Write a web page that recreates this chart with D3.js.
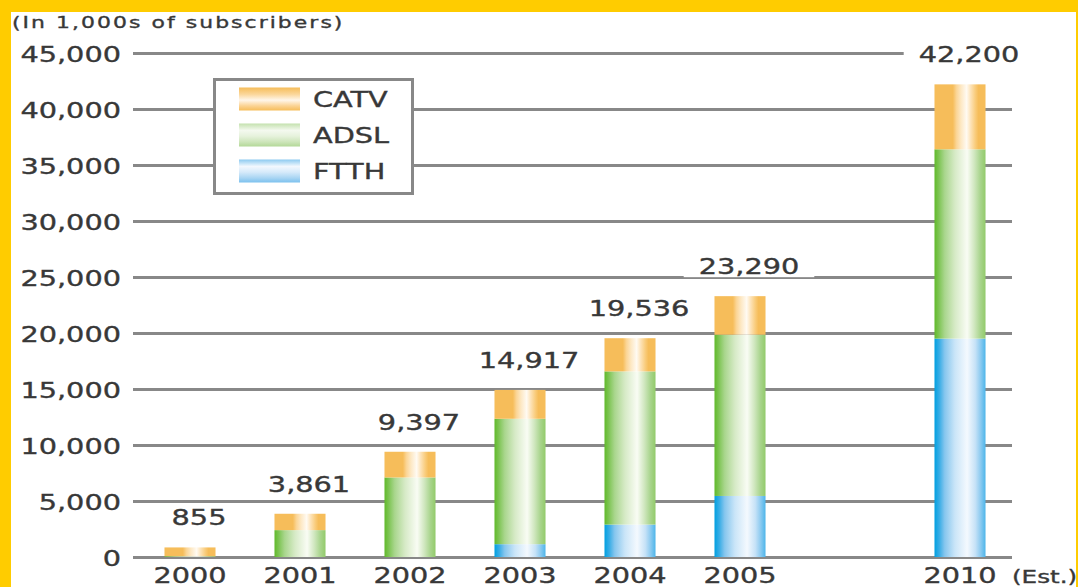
<!DOCTYPE html>
<html>
<head>
<meta charset="utf-8">
<script src="https://cdn.jsdelivr.net/npm/d3@7"></script>
<style>
  html, body { margin: 0; padding: 0; background: #fff; }
  svg { display: block; }
  text { font-family: "DejaVu Sans", sans-serif; fill: #383838; stroke: #383838; stroke-width: 0.35px; }
</style>
</head>
<body>
<div id="chart"></div>
<script>
// values in 1,000s of subscribers
const years = ["2000", "2001", "2002", "2003", "2004", "2005", "2010"];
const ftth = [0, 0, 0, 1144, 2895, 5450, 19500];
const adsl = [70, 2400, 7100, 11198, 13677, 14400, 16900];
const catv = [785, 1461, 2297, 2575, 2964, 3440, 5800];
const totals = [855, 3861, 9397, 14917, 19536, 23290, 42200];
const yTicks = [0, 5000, 10000, 15000, 20000, 25000, 30000, 35000, 40000, 45000];
const seriesNames = ["CATV", "ADSL", "FTTH"];

const width = 1078, height = 587;
const sx = 1.37; // glyphs in the picture are stretched sideways
const gridLeft = 133, gridRight = 1012;

const svg = d3.select("#chart").append("svg")
    .attr("width", width)
    .attr("height", height);

// yellow frame
svg.append("rect").attr("x", 0).attr("y", 0).attr("width", width).attr("height", 12).attr("fill", "#ffcc00");
svg.append("rect").attr("x", 0).attr("y", 0).attr("width", 11).attr("height", height).attr("fill", "#ffcc00");
svg.append("rect").attr("x", 1076).attr("y", 0).attr("width", 2).attr("height", height).attr("fill", "#ffcc00");

const defs = svg.append("defs");

const barStops = {
    CATV: [[0, "#f6bd5a"], [0.36, "#f6bd5a"], [0.43, "#fbd595"], [0.52, "#fde8c4"], [0.63, "#fffaf2"], [0.71, "#fde3b8"], [0.8, "#f9cc7c"], [0.86, "#f6bd5a"], [1, "#f6bd5a"]],
    ADSL: [[0, "#60b92a"], [0.08, "#7cc451"], [0.2, "#a9d68d"], [0.4, "#d6eac6"], [0.64, "#f9fcf4"], [0.78, "#d0e7bf"], [0.9, "#a8d48c"], [1, "#92ca6a"]],
    FTTH: [[0, "#009fe0"], [0.1, "#3caee6"], [0.2, "#86c6ee"], [0.4, "#cae5f8"], [0.64, "#f4f9fe"], [0.8, "#c6e2f7"], [0.9, "#8ecbf0"], [1, "#4db5ea"]]
};
const swatchStops = {
    CATV: [[0, "#f6bd5a"], [0.3, "#fbd79c"], [0.55, "#fff6ea"], [0.8, "#fbd393"], [1, "#f6bd5a"]],
    ADSL: [[0, "#c4e1ae"], [0.3, "#f4f9ef"], [0.55, "#e6f2dc"], [0.8, "#cde5ba"], [1, "#b3d898"]],
    FTTH: [[0, "#8ccaf0"], [0.3, "#f2f8fe"], [0.55, "#d6eafa"], [0.8, "#a9d5f3"], [1, "#7cc1ee"]]
};

function gradient(id, stops, vertical) {
    const g = defs.append("linearGradient")
        .attr("id", id)
        .attr("x1", 0).attr("y1", 0)
        .attr("x2", vertical ? 0 : 1).attr("y2", vertical ? 1 : 0);
    g.selectAll("stop").data(stops).join("stop")
        .attr("offset", d => d[0])
        .attr("stop-color", d => d[1]);
}
seriesNames.forEach(s => {
    gradient("bar-" + s, barStops[s], false);
    gradient("sw-" + s, swatchStops[s], true);
});

const x = d3.scaleBand()
    .domain(["2000", "2001", "2002", "2003", "2004", "2005", "gap", "2010"])
    .range([135, 1015])
    .paddingInner(0.536)
    .paddingOuter(0.268);

const y = d3.scaleLinear()
    .domain([0, 45000])
    .range([557, 53]);

// y axis + gridlines
const yAxis = svg.append("g")
    .attr("transform", `translate(${gridLeft},0)`)
    .call(d3.axisLeft(y)
        .tickValues(yTicks)
        .tickFormat(d3.format(","))
        .tickSize(-(gridRight - gridLeft))
        .tickPadding(12));
yAxis.select(".domain").remove();
yAxis.selectAll(".tick line").attr("stroke", "#888").attr("stroke-width", 3);
yAxis.selectAll(".tick text")
    .attr("x", -12 / sx)
    .attr("dy", null)
    .attr("y", 8)
    .attr("transform", `scale(${sx},1)`)
    .style("font-size", "21px")
    .style("font-family", "DejaVu Sans")
    .attr("fill", "#383838");

// stacked bars
const rows = years.map((yr, i) => ({ year: yr, FTTH: ftth[i], ADSL: adsl[i], CATV: catv[i], total: totals[i] }));
const stack = d3.stack().keys(["FTTH", "ADSL", "CATV"])(rows);

svg.append("g")
    .selectAll("g")
    .data(stack)
    .join("g")
        .attr("fill", d => `url(#bar-${d.key})`)
    .selectAll("rect")
    .data(d => d.filter(p => p[1] - p[0] > 0))
    .join("rect")
        .attr("x", d => x(d.data.year))
        .attr("width", x.bandwidth())
        .attr("y", d => y(d[1]))
        .attr("height", d => y(d[0]) - y(d[1]));

// total labels with white knock-out behind them
const labels = svg.append("g")
    .selectAll("g")
    .data(rows)
    .join("g")
        .attr("transform", d => `translate(${x(d.year) + x.bandwidth() / 2 + 9},${y(d.total) - 30})`);
labels.append("rect").attr("class", "bg").attr("fill", "#fff");
labels.append("text")
    .attr("text-anchor", "middle")
    .attr("y", 8)
    .attr("transform", `scale(${sx},1)`)
    .style("font-size", "21px")
    .text(d => d3.format(",")(d.total));
labels.each(function() {
    const g = d3.select(this);
    const w = g.select("text").node().getComputedTextLength() * sx + 30;
    g.select("rect.bg").attr("x", -w / 2).attr("y", -11).attr("width", w).attr("height", 22);
});

// x axis labels
const xAxis = svg.append("g")
    .call(d3.axisBottom(x).tickSize(0).tickValues(years));
xAxis.select(".domain").remove();
xAxis.selectAll(".tick text")
    .attr("y", 583)
    .attr("dy", null)
    .attr("transform", `scale(${sx},1)`)
    .style("font-size", "21px")
    .style("font-family", "DejaVu Sans")
    .attr("fill", "#383838");

svg.append("text")
    .attr("transform", `translate(1012,583) scale(${sx},1)`)
    .style("font-size", "18px")
    .text("(Est.)");

// title
svg.append("text")
    .attr("transform", `translate(12,28) scale(${sx},1)`)
    .style("font-size", "16px")
    .style("letter-spacing", "1.5px")
    .text("(In 1,000s of subscribers)");

// legend
const legend = svg.append("g");
legend.append("rect")
    .attr("x", 214.5).attr("y", 79.5)
    .attr("width", 198).attr("height", 114)
    .attr("fill", "#fff")
    .attr("stroke", "#888")
    .attr("stroke-width", 3);
const items = legend.selectAll("g.item")
    .data(seriesNames)
    .join("g")
        .attr("class", "item")
        .attr("transform", (d, i) => `translate(239,${99 + i * 36})`);
items.append("rect")
    .attr("x", 0).attr("y", -11.5)
    .attr("width", 61).attr("height", 23)
    .attr("fill", d => `url(#sw-${d})`);
items.append("text")
    .attr("transform", `translate(74,8) scale(${sx},1)`)
    .style("font-size", "21px")
    .text(d => d);
</script>
</body>
</html>
